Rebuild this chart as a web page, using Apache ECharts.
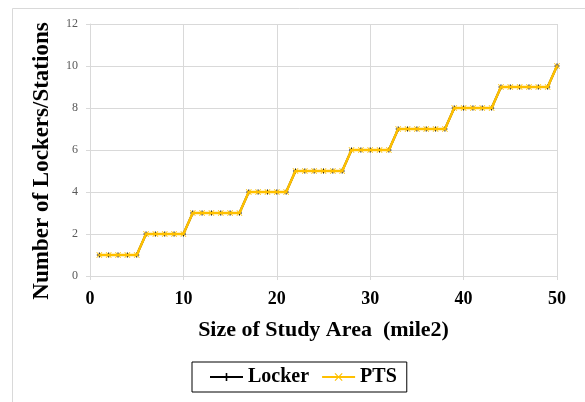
<!DOCTYPE html>
<html>
<head>
<meta charset="utf-8">
<script src="https://cdn.jsdelivr.net/npm/echarts@6/dist/echarts.min.js"></script>
<style>
html,body{margin:0;padding:0;background:#fff;}
#main{width:585px;height:402px;}
</style>
</head>
<body>
<div id="main"></div>
<script>
var xValues = [1,2,3,4,5,6,7,8,9,10,11,12,13,14,15,16,17,18,19,20,21,22,23,24,25,26,27,28,29,30,31,32,33,34,35,36,37,38,39,40,41,42,43,44,45,46,47,48,49,50];
var lockerValues = [1,1,1,1,1,2,2,2,2,2,3,3,3,3,3,3,4,4,4,4,4,5,5,5,5,5,5,6,6,6,6,6,7,7,7,7,7,7,8,8,8,8,8,9,9,9,9,9,9,10];
var ptsValues = [1,1,1,1,1,2,2,2,2,2,3,3,3,3,3,3,4,4,4,4,4,5,5,5,5,5,5,6,6,6,6,6,7,7,7,7,7,7,8,8,8,8,8,9,9,9,9,9,9,10];
var xTicks = [0,10,20,30,40,50];
var yTicks = [0,2,4,6,8,10,12];

function pairs(xs, ys){ return xs.map(function(x,i){ return [x, ys[i]]; }); }

var plusPath = 'path://M4,0L6,0L6,4L10,4L10,6L6,6L6,10L4,10L4,6L0,6L0,4L4,4Z';
var xPath = 'path://M0,1L1,0L5,4L9,0L10,1L6,5L10,9L9,10L5,6L1,10L0,9L4,5Z';
var serif = '"Liberation Serif", "Times New Roman", serif';

var chart = echarts.init(document.getElementById('main'), null, {renderer:'canvas'});
chart.setOption({
  animation:false,
  backgroundColor:'#fff',
  graphic:[{
    type:'rect', left:10, top:6, shape:{width:600, height:420},
    style:{fill:'none', stroke:'#d9d9d9', lineWidth:1}, silent:true, z:-10
  }],
  grid:{left:90, right:28, top:24, bottom:126, containLabel:false},
  xAxis:{
    type:'value', min:0, max:50, interval:10,
    name:'Size of Study Area  (mile2)', nameLocation:'middle', nameGap:43,
    nameTextStyle:{fontFamily:serif, fontWeight:'bold', fontSize:22, color:'#000'},
    axisLine:{lineStyle:{color:'#d9d9d9', width:1}},
    axisTick:{show:true, length:4, lineStyle:{color:'#d9d9d9'}},
    axisLabel:{fontFamily:serif, fontWeight:'bold', fontSize:18, color:'#000', margin:14,
      formatter:function(v){ return xTicks.indexOf(v) >= 0 ? String(v) : ''; }},
    splitLine:{show:true, lineStyle:{color:'#d9d9d9', width:1}}
  },
  yAxis:{
    type:'value', min:0, max:12, interval:2,
    name:'Number of Lockers/Stations', nameLocation:'middle', nameGap:36,
    nameTextStyle:{fontFamily:serif, fontWeight:'bold', fontSize:23, color:'#000', padding:[0,22,0,0]},
    axisLine:{show:true, lineStyle:{color:'#d9d9d9', width:1}},
    axisTick:{show:true, length:4, lineStyle:{color:'#d9d9d9'}},
    axisLabel:{fontFamily:serif, fontSize:12, color:'#595959', margin:12,
      formatter:function(v){ return yTicks.indexOf(v) >= 0 ? String(v) : ''; }},
    splitLine:{show:true, lineStyle:{color:'#d9d9d9', width:1}}
  },
  legend:{
    left:192, top:362, orient:'horizontal',
    itemWidth:33, itemHeight:10, itemGap:12,
    padding:[5,10,5,17],
    borderColor:'#000', borderWidth:1,
    textStyle:{fontFamily:serif, fontWeight:'bold', fontSize:20, color:'#000'},
    data:['Locker','PTS']
  },
  series:[
    {
      name:'Locker', type:'line', data:pairs(xValues, lockerValues),
      symbol:plusPath, symbolSize:5, showAllSymbol:true,
      lineStyle:{color:'#000', width:2},
      itemStyle:{color:'#000'}, z:2
    },
    {
      name:'PTS', type:'line', data:pairs(xValues, ptsValues),
      symbol:xPath, symbolSize:6, showAllSymbol:true,
      lineStyle:{color:'#FFC000', width:2.5},
      itemStyle:{color:'#FFC000'}, z:3
    }
  ]
});
</script>
</body>
</html>
